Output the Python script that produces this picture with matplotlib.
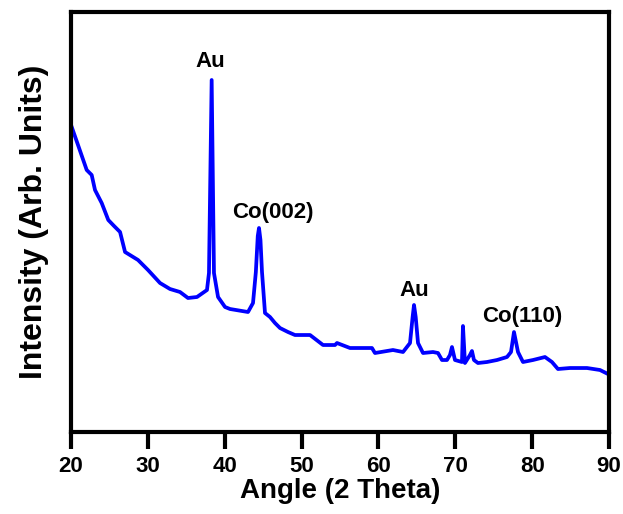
import matplotlib.pyplot as plt
import numpy as np

plt.rcParams['font.family'] = ['Liberation Sans', 'DejaVu Sans']
plt.rcParams['font.weight'] = 'bold'

# XRD pattern (intensity in arbitrary units)
angle = [20.0, 21.0, 22.04, 22.69, 23.12, 23.99, 24.85, 25.6, 26.38, 27.03, 28.72, 30.02,
         31.58, 32.88, 34.18, 35.22, 36.39, 37.69, 37.95, 38.30, 38.60, 39.13,
         40.04, 40.69, 42.25, 43.03, 43.68, 44.05, 44.30, 44.46, 44.65, 44.85, 45.24, 45.89,
         46.54, 47.19, 48.23, 49.14, 51.10, 52.79, 54.35, 54.61, 56.30, 59.16,
         59.55, 61.89, 63.20, 64.11, 64.45, 64.63, 64.85, 65.15, 65.80, 67.10, 67.75, 68.27,
         68.92, 69.31, 69.57, 69.96, 70.87, 71.00, 71.26, 71.91, 72.17, 72.43,
         72.95, 74.12, 75.43, 76.73, 77.25, 77.64, 78.16, 78.81, 80.11, 81.67,
         82.58, 83.36, 84.92, 87.14, 88.83, 89.87]
intensity = [307, 285, 262, 257, 242, 229, 212, 206, 200, 180, 172, 162,
             149, 143, 140, 134, 135, 142, 159, 352, 159, 135,
             125, 123, 121, 120, 129, 160, 196, 204, 192, 160, 119, 115,
             109, 104, 100, 97, 97, 87, 87, 89, 84, 84,
             79, 82, 80, 89, 115, 127, 115, 89, 79, 80, 79, 72,
             72, 77, 85, 72, 70, 106, 69, 77, 81, 72,
             69, 70, 72, 75, 80, 100, 80, 70, 72, 75,
             70, 63, 64, 64, 62, 58]

peak_labels = ['Au', 'Co(002)', 'Au', 'Co(110)']
peak_x = [38.1, 46.3, 64.6, 78.7]
peak_y = [370, 219, 142, 116]

xticks = [20, 30, 40, 50, 60, 70, 80, 90]

fig = plt.figure(figsize=(6.23, 5.14), dpi=100)
ax = fig.add_axes([0.114, 0.1595, 0.8635, 0.8172])

ax.plot(angle, intensity, color='#0000ff', linewidth=2.7, solid_joinstyle='round')

for lbl, x, y in zip(peak_labels, peak_x, peak_y):
    ax.text(x, y, lbl, ha='center', va='center', fontsize=16, fontweight='bold')

ax.set_xlim(20, 90)
ax.set_ylim(0, 420)
ax.set_xticks(xticks)
ax.set_yticks([])
ax.tick_params(axis='x', direction='out', length=12, width=3, pad=5, labelsize=16)
for lab in ax.get_xticklabels():
    lab.set_fontweight('bold')
for sp in ax.spines.values():
    sp.set_linewidth(3)

ax.set_xlabel('Angle (2 Theta)', fontsize=20, fontweight='bold', labelpad=1)
ax.set_ylabel('Intensity (Arb. Units)', fontsize=23, fontweight='bold', labelpad=16)

plt.savefig('out.png', dpi=100)
